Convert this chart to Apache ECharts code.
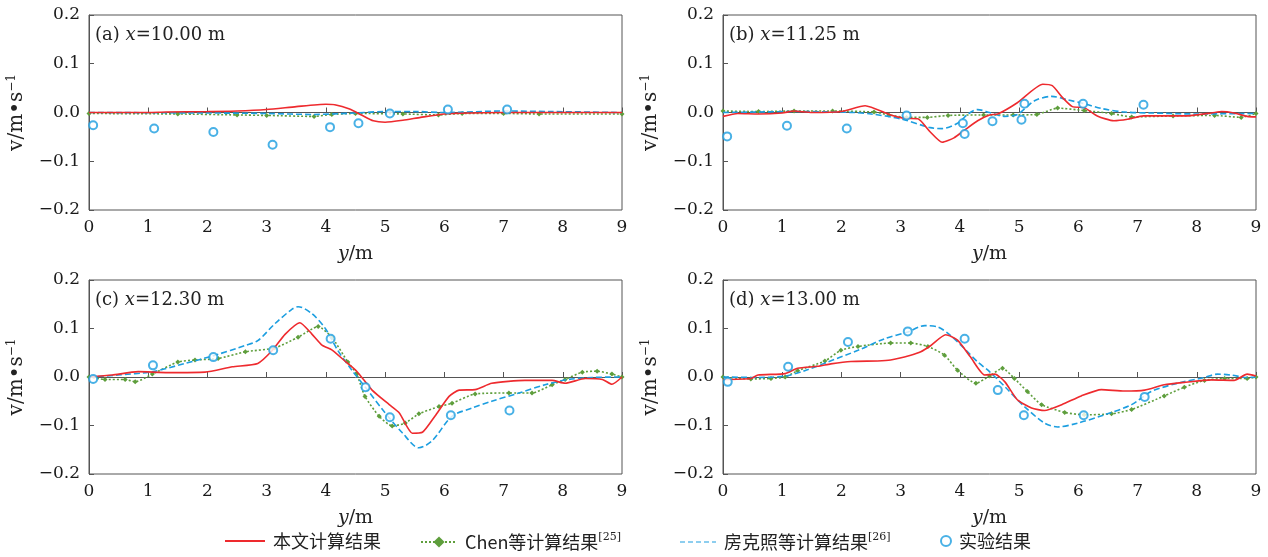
<!DOCTYPE html>
<html>
<head>
<meta charset="utf-8">
<script src="https://cdn.jsdelivr.net/npm/echarts@6/dist/echarts.min.js"></script>
<style>html,body{margin:0;padding:0;background:#fff;}#c{width:1268px;height:557px;}</style>
</head>
<body>
<div id="c"></div>
<script>
// ---- labels ----
const panelLabels = ['(a) {i|x}=10.00 m', '(b) {i|x}=11.25 m', '(c) {i|x}=12.30 m', '(d) {i|x}=13.00 m'];
const seriesNames = ['本文计算结果', 'Chen等计算结果[25]', '房克照等计算结果[26]', '实验结果'];
const xTicks = [0, 9, 1];      // min, max, interval
const yTicks = [-0.2, 0.2, 0.1];

// ---- panel (a) x = 10.00 m ----
const a_red = [[0,0],[1,0],[1.3,0.001],[2,0.002],[2.5,0.003],[3,0.006],[3.5,0.012],[4,0.017],[4.15,0.016],[4.4,0.007],[4.6,-0.005],[4.8,-0.017],[5.0,-0.02],[5.3,-0.016],[5.6,-0.01],[6.0,-0.003],[6.5,-0.001],[7,0],[9,0]];
const a_chen = [[0,-0.002],[1.5,-0.003],[2.5,-0.005],[3.0,-0.006],[3.8,-0.008],[4.1,-0.004],[4.5,-0.002],[5.3,-0.003],[5.9,-0.005],[6.3,-0.002],[7,-0.002],[7.6,-0.003],[9,-0.003]];
const a_fang = [[0,0],[2,-0.001],[3,-0.002],[3.8,-0.004],[4.5,-0.001],[5,0.002],[5.5,0.002],[6,0],[7,0.003],[7.8,0.002],[9,0]];
const a_exp = [[0.07,-0.026],[1.1,-0.033],[2.1,-0.04],[3.1,-0.066],[4.07,-0.03],[4.55,-0.022],[5.08,-0.002],[6.06,0.006],[7.06,0.006]];

// ---- panel (b) x = 11.25 m ----
const b_red = [[0,-0.008],[0.25,-0.002],[0.6,-0.003],[1.0,-0.001],[1.2,0.003],[1.5,0.0],[2.0,0.002],[2.4,0.014],[2.83,-0.005],[3.07,-0.012],[3.29,-0.013],[3.5,-0.04],[3.7,-0.061],[3.9,-0.052],[4.08,-0.036],[4.3,-0.017],[4.5,-0.005],[4.64,-0.003],[4.97,0.02],[5.4,0.058],[5.56,0.055],[5.73,0.031],[5.9,0.012],[6.1,0.01],[6.32,-0.007],[6.6,-0.017],[6.83,-0.014],[7.1,-0.007],[7.8,-0.007],[8.25,-0.001],[8.42,0.002],[8.63,-0.001],[8.85,-0.008],[9,-0.009]];
const b_chen = [[0,0.003],[0.6,0.002],[1.2,0.003],[1.85,0.003],[2.55,0.001],[2.8,-0.005],[3.1,-0.01],[3.45,-0.01],[3.8,-0.006],[4.4,-0.005],[4.9,-0.005],[5.3,-0.004],[5.65,0.009],[6.1,0.004],[6.56,-0.002],[6.9,-0.009],[7.6,-0.007],[8.3,-0.006],[8.75,-0.01],[9,-0.002]];
const b_fang = [[0,0],[0.6,0.001],[1.2,0.002],[2.2,0],[2.5,-0.003],[3.0,-0.013],[3.5,-0.031],[3.7,-0.033],[3.96,-0.022],[4.15,-0.002],[4.3,0.006],[4.5,0.0],[4.75,-0.008],[4.97,-0.004],[5.26,0.024],[5.55,0.033],[5.82,0.026],[6.1,0.018],[6.4,0.008],[6.78,0.001],[7.23,-0.001],[8,-0.003],[9,-0.002]];
const b_exp = [[0.07,-0.049],[1.08,-0.027],[2.09,-0.033],[3.1,-0.006],[4.05,-0.022],[4.08,-0.044],[4.55,-0.018],[5.04,-0.015],[5.09,0.018],[6.08,0.018],[7.1,0.016]];

// ---- panel (c) x = 12.30 m ----
const c_red = [[0,0],[0.39,0.004],[0.83,0.011],[1.33,0.009],[1.96,0.01],[2.42,0.021],[2.85,0.028],[3.09,0.054],[3.31,0.088],[3.56,0.112],[3.76,0.089],[3.94,0.065],[4.1,0.056],[4.32,0.033],[4.52,0.012],[4.78,-0.027],[5.07,-0.057],[5.24,-0.074],[5.46,-0.116],[5.63,-0.114],[5.84,-0.081],[6.08,-0.04],[6.25,-0.027],[6.52,-0.026],[6.8,-0.013],[7.36,-0.007],[7.82,-0.007],[8.04,-0.013],[8.38,-0.003],[8.67,-0.005],[8.83,-0.015],[9,0]];
const c_chen = [[0,0],[0.27,-0.005],[0.61,-0.005],[0.78,-0.01],[1.07,0.006],[1.5,0.031],[1.79,0.035],[2.18,0.038],[2.64,0.052],[3.14,0.06],[3.53,0.082],[3.87,0.104],[4.1,0.082],[4.37,0.031],[4.52,0.006],[4.66,-0.04],[4.9,-0.081],[5.12,-0.101],[5.34,-0.095],[5.57,-0.076],[5.91,-0.061],[6.13,-0.054],[6.52,-0.035],[7.09,-0.033],[7.48,-0.033],[7.82,-0.016],[8.04,-0.005],[8.33,0.01],[8.58,0.012],[8.83,0.006],[9,0]];
const c_fang = [[0,0],[0.49,0.004],[1.07,0.011],[1.62,0.028],[2.13,0.045],[2.64,0.065],[2.85,0.075],[3.14,0.11],[3.43,0.14],[3.53,0.145],[3.77,0.13],[3.99,0.1],[4.2,0.055],[4.44,0.014],[4.66,-0.02],[5.0,-0.074],[5.29,-0.115],[5.57,-0.146],[5.79,-0.132],[6.13,-0.081],[6.47,-0.064],[6.8,-0.05],[7.26,-0.033],[7.7,-0.016],[8.1,-0.005],[8.5,-0.001],[9,0]];
const c_exp = [[0.07,-0.004],[1.08,0.024],[2.1,0.041],[3.11,0.055],[4.08,0.079],[4.67,-0.021],[5.08,-0.083],[6.11,-0.079],[7.1,-0.069]];

// ---- panel (d) x = 13.00 m ----
const d_red = [[0,-0.005],[0.47,-0.003],[0.59,0.004],[1.05,0.007],[1.26,0.018],[1.6,0.022],[1.82,0.027],[2.16,0.032],[2.61,0.033],[2.83,0.035],[3.17,0.045],[3.34,0.052],[3.51,0.065],[3.76,0.087],[3.96,0.076],[4.18,0.041],[4.42,0.004],[4.59,0.006],[4.76,-0.01],[4.97,-0.047],[5.21,-0.064],[5.43,-0.069],[5.72,-0.057],[6.05,-0.039],[6.39,-0.026],[6.78,-0.029],[7.12,-0.027],[7.45,-0.016],[7.79,-0.011],[8.25,-0.006],[8.63,-0.007],[8.85,0.006],[9,0.002]];
const d_chen = [[0,0],[0.47,-0.004],[0.81,-0.003],[1.05,0],[1.26,0.013],[1.72,0.033],[1.99,0.055],[2.28,0.063],[2.83,0.07],[3.17,0.07],[3.46,0.063],[3.74,0.045],[3.96,0.014],[4.27,-0.013],[4.5,0.002],[4.72,0.018],[4.92,-0.003],[5.14,-0.03],[5.38,-0.057],[5.77,-0.073],[6.1,-0.078],[6.56,-0.076],[6.9,-0.067],[7.45,-0.039],[7.79,-0.021],[8.13,-0.007],[8.47,-0.003],[8.85,-0.003],[9,0]];
const d_fang = [[0,0],[0.59,-0.001],[1.05,0.002],[1.38,0.013],[1.77,0.031],[2.28,0.055],[2.73,0.079],[3.12,0.093],[3.41,0.106],[3.63,0.103],[3.84,0.086],[4.08,0.058],[4.3,0.031],[4.5,0.011],[4.76,-0.02],[5.09,-0.061],[5.43,-0.095],[5.65,-0.103],[5.99,-0.095],[6.44,-0.078],[6.9,-0.057],[7.23,-0.03],[7.67,-0.013],[8.13,-0.001],[8.35,0.006],[8.58,0.004],[8.85,-0.001],[9,0]];
const d_exp = [[0.08,-0.01],[1.1,0.021],[2.11,0.072],[3.12,0.094],[4.08,0.079],[4.64,-0.027],[5.08,-0.079],[6.09,-0.079],[7.12,-0.041]];

const panels = [
  [a_red, a_chen, a_fang, a_exp],
  [b_red, b_chen, b_fang, b_exp],
  [c_red, c_chen, c_fang, c_exp],
  [d_red, d_chen, d_fang, d_exp]
];

// ---- styling / layout ----
const RED = '#ee2a2e', GREEN = '#5e9e3c', BLUE = '#1c9ee0';
const SERIF = '"DejaVu Serif", "Liberation Serif", serif';
const CJK = '"Noto Sans CJK SC", "Noto Sans", sans-serif';
const grids = [
  {left: 89, top: 15, width: 533, height: 195},
  {left: 723, top: 15, width: 533, height: 195},
  {left: 89, top: 280, width: 533, height: 194},
  {left: 723, top: 280, width: 533, height: 194}
];

const fmtY = v => { const r = Math.round(v * 10) / 10; return (r < 0 ? '\u2212' : '') + Math.abs(r).toFixed(1); };

const DASH_ICON = 'path://M0 0h5v1H0zM8 0h5v1H8zM16 0h5v1h-5zM24 0h5v1h-5zM32 0h4v1h-4z';

const option = {
  animation: false,
  backgroundColor: '#fff',
  grid: grids.map(g => Object.assign({show: true, borderColor: '#555', borderWidth: 1, backgroundColor: 'transparent'}, g)),
  title: panelLabels.map((t, i) => ({
    text: t,
    left: grids[i].left + 6,
    top: grids[i].top + 11,
    padding: 0,
    textStyle: {fontFamily: SERIF, fontSize: 18, fontWeight: 'normal', color: '#222',
      rich: {i: {fontFamily: SERIF, fontSize: 18, fontStyle: 'italic', color: '#222'}}}
  })),
  xAxis: grids.map((g, i) => ({
    type: 'value', gridIndex: i, min: xTicks[0], max: xTicks[1], interval: xTicks[2],
    name: '{i|y}/m', nameLocation: 'middle', nameGap: 35,
    nameTextStyle: {fontFamily: SERIF, fontSize: 19, color: '#222', rich: {i: {fontFamily: SERIF, fontSize: 19, fontStyle: 'italic', color: '#222'}}},
    axisLine: {show: true, lineStyle: {color: '#555', width: 1}},
    axisTick: {show: true, inside: true, length: 5, lineStyle: {color: '#555'}},
    axisLabel: {fontFamily: SERIF, fontSize: 17, color: '#1a1a1a', margin: 9},
    splitLine: {show: false}
  })),
  yAxis: grids.map((g, i) => ({
    type: 'value', gridIndex: i, min: yTicks[0], max: yTicks[1], interval: yTicks[2],
    name: 'v/m\u2022s{s|\u22121}', nameLocation: 'middle', nameGap: 62, nameRotate: 90,
    nameTextStyle: {fontFamily: SERIF, fontSize: 20, color: '#222', rich: {s: {fontFamily: SERIF, fontSize: 12, color: '#222', verticalAlign: 'top', padding: [0, 0, 9, 0]}}},
    axisLine: {show: true, lineStyle: {color: '#555', width: 1}},
    axisTick: {show: true, inside: true, length: 5, lineStyle: {color: '#555'}},
    axisLabel: {fontFamily: SERIF, fontSize: 17, color: '#1a1a1a', margin: 9, formatter: fmtY},
    splitLine: {show: false}
  })),
  legend: [
    {left: 225, data: [{name: seriesNames[0], icon: 'rect'}], itemWidth: 40, itemHeight: 2},
    {left: 420, data: [seriesNames[1]], itemWidth: 36, itemHeight: 14},
    {left: 680, data: [{name: seriesNames[2], icon: DASH_ICON}], itemWidth: 36, itemHeight: 2},
    {left: 940, data: [seriesNames[3]], itemWidth: 10, itemHeight: 10}
  ].map(l => Object.assign({
    top: 532, padding: 0, itemGap: 0,
    formatter: n => n.replace(/\[(\d+)\]/, '{s|[$1]}'),
    textStyle: {fontFamily: CJK, fontSize: 18, color: '#222', padding: [0, 0, 0, 3],
      rich: {s: {fontFamily: SERIF, fontSize: 11, color: '#222', verticalAlign: 'top', padding: [0, 0, 9, 0]}}}
  }, l)),
  series: []
};

panels.forEach((p, i) => {
  option.series.push({
    name: seriesNames[0], type: 'line', xAxisIndex: i, yAxisIndex: i, data: p[0],
    showSymbol: false, symbol: 'none', smooth: 0.2, lineStyle: {color: RED, width: 1.6}, itemStyle: {color: RED}, z: 4
  });
  option.series.push({
    name: seriesNames[1], type: 'line', xAxisIndex: i, yAxisIndex: i, data: p[1],
    showSymbol: true, symbol: 'diamond', symbolSize: 5, smooth: 0.2,
    lineStyle: {color: GREEN, width: 1.6, type: [2, 2]}, itemStyle: {color: GREEN}, z: 2
  });
  option.series.push({
    name: seriesNames[2], type: 'line', xAxisIndex: i, yAxisIndex: i, data: p[2],
    showSymbol: false, symbol: 'none', smooth: 0.3,
    lineStyle: {color: BLUE, width: 1.6, type: [6, 3]}, itemStyle: {color: BLUE}, z: 3
  });
  option.series.push({
    name: seriesNames[3], type: 'scatter', xAxisIndex: i, yAxisIndex: i, data: p[3],
    symbol: 'circle', symbolSize: 8,
    itemStyle: {color: '#fff', borderColor: BLUE, borderWidth: 2}, z: 5
  });
});

const chart = echarts.init(document.getElementById('c'), null, {renderer: 'canvas'});
chart.setOption(option);
</script>
</body>
</html>
